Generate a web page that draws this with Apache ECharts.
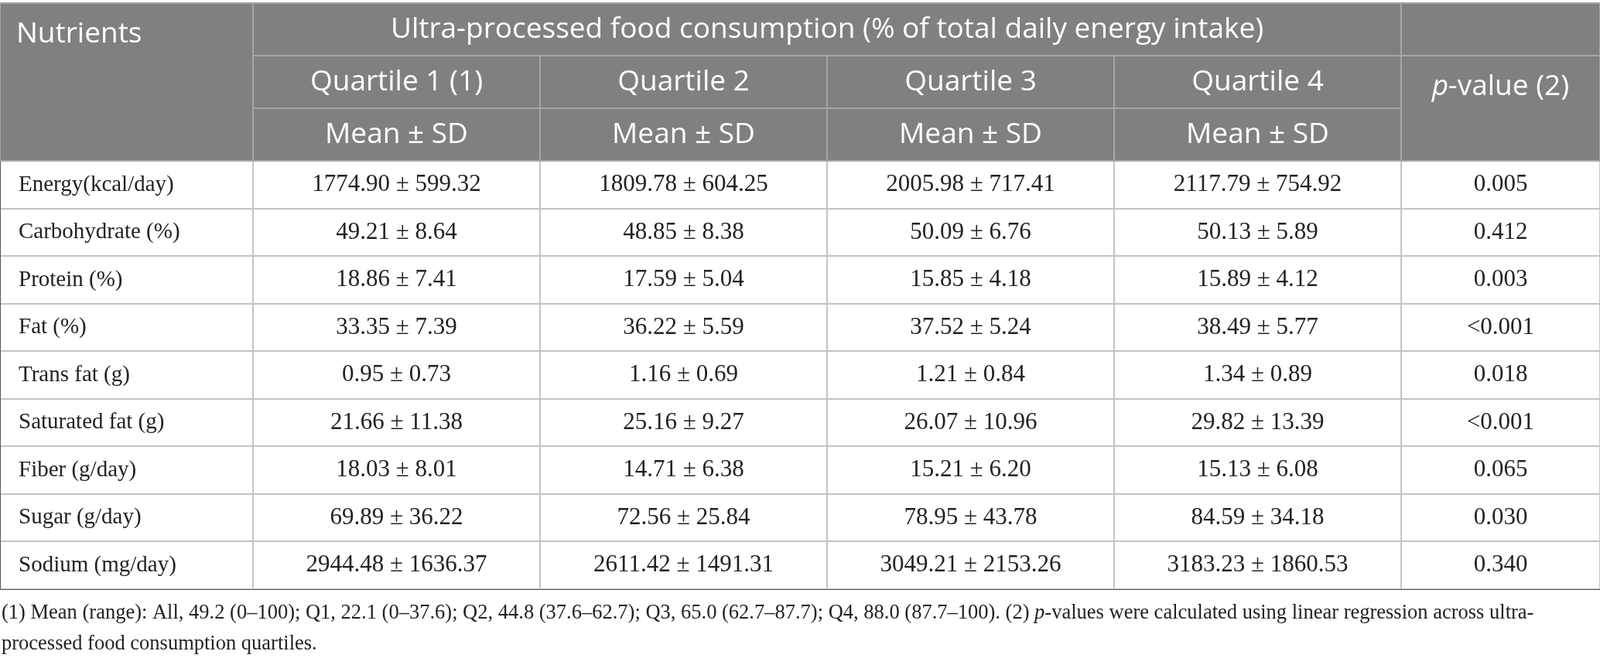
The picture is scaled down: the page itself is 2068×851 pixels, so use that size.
<!DOCTYPE html>
<html lang="en">

<head>
    <meta charset="UTF-8">
    <meta name="viewport" content="width=device-width, initial-scale=1.0">
    <title>Nutrient intake by UPF quartile</title>
    <script src="https://cdn.jsdelivr.net/npm/echarts@6.0.0/dist/echarts.min.js"></script>
    <style>
        html, body { margin: 0; padding: 0; background: #fff; }
    </style>
</head>

<body>
    <div id="main" style="width: 2068px;height:851px;"></div>
    <script type="text/javascript">
        // table content
        const nutrients = ['Energy(kcal/day)', 'Carbohydrate (%)', 'Protein (%)', 'Fat (%)', 'Trans fat (g)',
            'Saturated fat (g)', 'Fiber (g/day)', 'Sugar (g/day)', 'Sodium (mg/day)'];
        const quartiles = ['Quartile 1 (1)', 'Quartile 2', 'Quartile 3', 'Quartile 4'];

        const q1Mean = [1774.90, 49.21, 18.86, 33.35, 0.95, 21.66, 18.03, 69.89, 2944.48];
        const q1Sd = [599.32, 8.64, 7.41, 7.39, 0.73, 11.38, 8.01, 36.22, 1636.37];
        const q2Mean = [1809.78, 48.85, 17.59, 36.22, 1.16, 25.16, 14.71, 72.56, 2611.42];
        const q2Sd = [604.25, 8.38, 5.04, 5.59, 0.69, 9.27, 6.38, 25.84, 1491.31];
        const q3Mean = [2005.98, 50.09, 15.85, 37.52, 1.21, 26.07, 15.21, 78.95, 3049.21];
        const q3Sd = [717.41, 6.76, 4.18, 5.24, 0.84, 10.96, 6.20, 43.78, 2153.26];
        const q4Mean = [2117.79, 50.13, 15.89, 38.49, 1.34, 29.82, 15.13, 84.59, 3183.23];
        const q4Sd = [754.92, 5.89, 4.12, 5.77, 0.89, 13.39, 6.08, 34.18, 1860.53];
        const pValues = ['0.005', '0.412', '0.003', '<0.001', '0.018', '<0.001', '0.065', '0.030', '0.340'];

        const means = [q1Mean, q2Mean, q3Mean, q4Mean];
        const sds = [q1Sd, q2Sd, q3Sd, q4Sd];

        const HEAD_ROWS = 3;
        const headFill = '#808080';
        const headLine = '#a6a6a6';
        const bodyLine = '#c4c4c4';
        const sans = '"Open Sans", "Noto Sans", sans-serif';
        const serif = '"Liberation Serif", "DejaVu Serif", serif';

        const headStyle = { color: headFill, borderColor: headLine, borderWidth: 2 };
        const headLabel = { fontFamily: sans, fontSize: 37, color: '#fff', offset: [0, 4] };

        let cells = [];

        // header block
        cells.push({
            coord: [0, [0, 2]], mergeCells: true, value: 'Nutrients', itemStyle: headStyle,
            label: Object.assign({}, headLabel, { position: 'insideTopLeft', distance: 0, lineHeight: 68, padding: [6, 0, 0, 21], offset: [0, 0] })
        });
        cells.push({
            coord: [[1, 4], 0], mergeCells: true,
            value: 'Ultra-processed food consumption (% of total daily energy intake)',
            itemStyle: headStyle, label: Object.assign({}, headLabel, { offset: [0, 2] })
        });
        cells.push({ coord: [5, 0], value: '', itemStyle: headStyle, label: headLabel });
        quartiles.forEach((q, i) => {
            cells.push({ coord: [i + 1, 1], value: q, itemStyle: headStyle, label: headLabel });
            cells.push({ coord: [i + 1, 2], value: 'Mean ± SD', itemStyle: headStyle, label: headLabel });
        });
        cells.push({
            coord: [5, [1, 2]], mergeCells: true, value: '{i|p}-value (2)', itemStyle: headStyle,
            label: Object.assign({}, headLabel, {
                position: 'insideTop', distance: 0, lineHeight: 68, padding: [6, 0, 0, 0], offset: [0, 0],
                rich: { i: { fontFamily: sans, fontSize: 37, color: '#fff', fontStyle: 'italic', lineHeight: 68 } }
            })
        });

        // body rows
        nutrients.forEach((name, r) => {
            const y = r + HEAD_ROWS;
            cells.push({
                coord: [0, y], value: name,
                label: { position: 'insideLeft', distance: 21, fontSize: 29 }
            });
            for (let c = 0; c < 4; c++) {
                cells.push({
                    coord: [c + 1, y],
                    value: means[c][r].toFixed(2) + ' ± ' + sds[c][r].toFixed(2)
                });
            }
            cells.push({ coord: [5, y], value: pValues[r] });
        });

        const colSizes = [327, 371, 371, 371, 371, 257];
        const rowSizes = [68, 68, 68].concat(nutrients.map(() => 61.5));

        let myChart = echarts.init(document.getElementById('main'));

        let options = {
            animation: false,
            title: {
                left: 2,
                top: 773,
                padding: 0,
                text: '(1) Mean (range): All, 49.2 (0–100); Q1, 22.1 (0–37.6); Q2, 44.8 (37.6–62.7); Q3, 65.0 (62.7–87.7); Q4, 88.0 (87.7–100). (2) {i|p}-values were calculated using linear regression across ultra-\nprocessed food consumption quartiles.',
                textStyle: {
                    fontFamily: serif, fontSize: 26.5, fontWeight: 'normal', color: '#222', lineHeight: 40,
                    rich: { i: { fontFamily: serif, fontSize: 26.5, fontStyle: 'italic', color: '#222', lineHeight: 40 } }
                }
            },
            matrix: {
                left: 0,
                top: 4,
                width: 2068,
                height: 758,
                x: { show: false, data: colSizes.map((s, i) => ({ value: 'c' + i, size: s })) },
                y: { show: false, data: rowSizes.map((s, i) => ({ value: 'r' + i, size: s })) },
                body: {
                    itemStyle: { color: '#fff', borderColor: bodyLine, borderWidth: 2 },
                    label: { fontFamily: serif, fontSize: 31, color: '#222', offset: [0, 4] },
                    data: cells
                }
            }
        };

        myChart.setOption(options);
    </script>
</body>

</html>
